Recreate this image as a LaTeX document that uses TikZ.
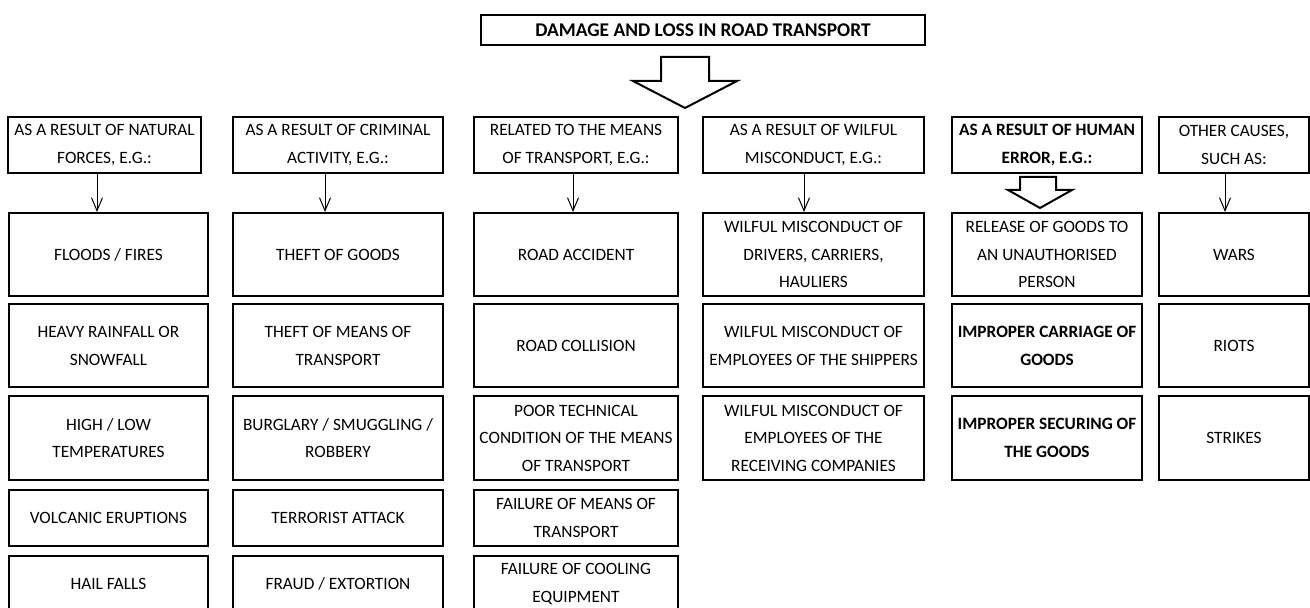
\documentclass[tikz,border=0pt]{standalone}
\usepackage{fontspec}
\setmainfont{Carlito}
\usetikzlibrary{positioning,arrows.meta}

\begin{document}
\begin{tikzpicture}[x=0.5pt,y=-0.5pt,
	every node/.style={font=\fontsize{8.65}{13.75}\selectfont,inner sep=1pt,align=center},
	causehead/.style={draw=black,line width=1.4pt,minimum height=28pt},
	cause/.style={draw=black,line width=1pt,minimum height=41.5pt},
	causeshort/.style={draw=black,line width=1pt,minimum height=28pt},
	boldtext/.style={font=\fontsize{8.65}{13.75}\selectfont\bfseries},
	leadarrow/.style={-{Straight Barb[length=6.5pt,width=5.5pt]},line width=0.5pt},
	blockarrow/.style={draw=black,line width=1pt,line join=miter,fill=white}]
	\useasboundingbox (0,0) rectangle (1310,608);
	
	\node[causehead,font=\fontsize{9.7}{13.75}\selectfont\bfseries,minimum width=222pt,minimum height=15pt] (title) at (703,30) {DAMAGE AND LOSS IN ROAD TRANSPORT};
	
	% headers
	\node[causehead,minimum width=96.5pt] (natural) at (104.5,145) {AS A RESULT OF NATURAL\\FORCES, E.G.:};
	\node[causehead,minimum width=105pt] (crime) at (338,145) {AS A RESULT OF CRIMINAL\\ACTIVITY, E.G.:};
	\node[causehead,minimum width=102pt] (means) at (576,145) {RELATED TO THE MEANS\\OF TRANSPORT, E.G.:};
	\node[causehead,minimum width=110.5pt] (wilful) at (813.5,145) {AS A RESULT OF WILFUL\\MISCONDUCT, E.G.:};
	\node[causehead,boldtext,minimum width=95pt] (human) at (1047,145) {AS A RESULT OF HUMAN\\ERROR, E.G.:};
	\node[causehead,minimum width=75pt] (other) at (1234,145) {OTHER CAUSES,\\SUCH AS:};
	
	% natural forces
	\node[cause,minimum width=99.5pt] (floods) at (108.5,254.5) {FLOODS / FIRES};
	\node[cause,minimum width=99.5pt] (rain) at (108.5,346) {HEAVY RAINFALL OR\\SNOWFALL};
	\node[cause,minimum width=99.5pt] (temp) at (108.5,438) {HIGH / LOW\\TEMPERATURES};
	\node[causeshort,minimum width=99.5pt] (volcano) at (108.5,518) {VOLCANIC ERUPTIONS};
	\node[causeshort,minimum width=99.5pt] (hail) at (108.5,584) {HAIL FALLS};
	
	% criminal activity
	\node[cause,minimum width=105pt] (theftg) at (338,254.5) {THEFT OF GOODS};
	\node[cause,minimum width=105pt] (theftm) at (338,346) {THEFT OF MEANS OF\\TRANSPORT};
	\node[cause,minimum width=105pt] (burglary) at (338,438) {BURGLARY / SMUGGLING /\\ROBBERY};
	\node[causeshort,minimum width=105pt] (terror) at (338,518) {TERRORIST ATTACK};
	\node[causeshort,minimum width=105pt] (fraud) at (338,584) {FRAUD / EXTORTION};
	
	% means of transport
	\node[cause,minimum width=102pt] (accident) at (576,254.5) {ROAD ACCIDENT};
	\node[cause,minimum width=102pt] (collision) at (576,346) {ROAD COLLISION};
	\node[cause,minimum width=102pt] (poor) at (576,438) {POOR TECHNICAL\\CONDITION OF THE MEANS\\OF TRANSPORT};
	\node[causeshort,minimum width=102pt] (failm) at (576,518) {FAILURE OF MEANS OF\\TRANSPORT};
	\node[causeshort,minimum width=102pt] (failc) at (576,584) {FAILURE OF COOLING\\EQUIPMENT};
	
	% wilful misconduct
	\node[cause,minimum width=110.5pt] (drivers) at (813.5,254.5) {WILFUL MISCONDUCT OF\\DRIVERS, CARRIERS,\\HAULIERS};
	\node[cause,minimum width=110.5pt] (shippers) at (813.5,346) {WILFUL MISCONDUCT OF\\EMPLOYEES OF THE SHIPPERS};
	\node[cause,minimum width=110.5pt] (receivers) at (813.5,438) {WILFUL MISCONDUCT OF\\EMPLOYEES OF THE\\RECEIVING COMPANIES};
	
	% human error
	\node[cause,minimum width=95pt] (release) at (1047,254.5) {RELEASE OF GOODS TO\\AN UNAUTHORISED\\PERSON};
	\node[cause,boldtext,minimum width=95pt] (carriage) at (1047,346) {IMPROPER CARRIAGE OF\\GOODS};
	\node[cause,boldtext,minimum width=95pt] (securing) at (1047,438) {IMPROPER SECURING OF\\THE GOODS};
	
	% other causes
	\node[cause,minimum width=75pt] (wars) at (1234,254.5) {WARS};
	\node[cause,minimum width=75pt] (riots) at (1234,346) {RIOTS};
	\node[cause,minimum width=75pt] (strikes) at (1234,438) {STRIKES};
	
	% arrows
	\draw[blockarrow] (661,57) -- ++(48,0) -- ++(0,24) -- ++(28,0) -- ++(-52,27) -- ++(-52,-27) -- ++(28,0) -- cycle;
	\draw[blockarrow] (1020,177) -- ++(36,0) -- ++(0,13) -- ++(16,0) -- ++(-32,18) -- ++(-32,-18) -- ++(12,0) -- cycle;
	\draw[leadarrow] ([xshift=-3.75pt]natural.south)--([xshift=-5.75pt]floods.north);
	\draw[leadarrow] ([xshift=-6.5pt]crime.south)--([xshift=-6.5pt]theftg.north);
	\draw[leadarrow] ([xshift=-1.5pt]means.south)--([xshift=-1.5pt]accident.north);
	\draw[leadarrow] ([xshift=-4.75pt]wilful.south)--([xshift=-4.75pt]drivers.north);
	\draw[leadarrow] ([xshift=-4.5pt]other.south)--([xshift=-4.5pt]wars.north);
\end{tikzpicture}
\end{document}
